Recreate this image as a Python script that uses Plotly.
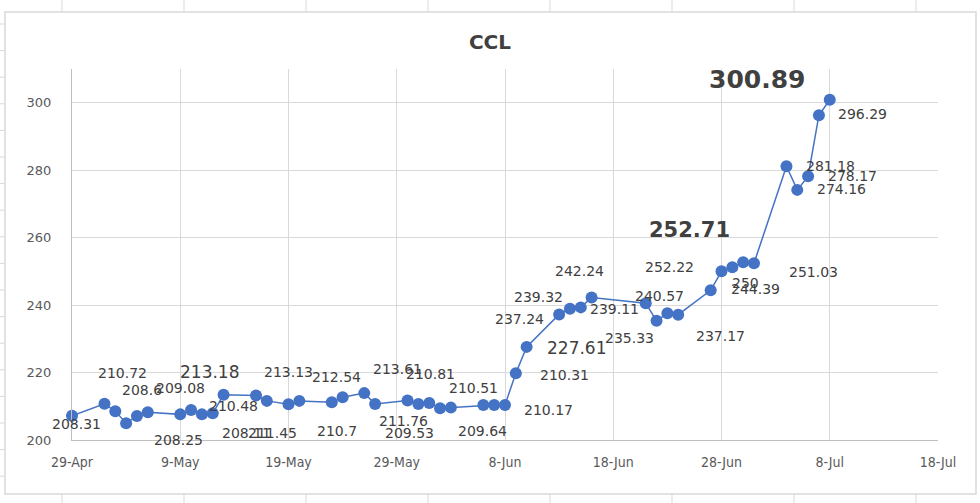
import plotly.graph_objects as go

# ---- data ----
dates = [
    "2022-04-29", "2022-05-02", "2022-05-03", "2022-05-04", "2022-05-05", "2022-05-06",
    "2022-05-09", "2022-05-10", "2022-05-11", "2022-05-12", "2022-05-13",
    "2022-05-16", "2022-05-17", "2022-05-19", "2022-05-20",
    "2022-05-23", "2022-05-24", "2022-05-26", "2022-05-27",
    "2022-05-30", "2022-05-31", "2022-06-01", "2022-06-02", "2022-06-03",
    "2022-06-06", "2022-06-07", "2022-06-08", "2022-06-09", "2022-06-10",
    "2022-06-13", "2022-06-14", "2022-06-15", "2022-06-16",
    "2022-06-21", "2022-06-22", "2022-06-23", "2022-06-24",
    "2022-06-27", "2022-06-28", "2022-06-29", "2022-06-30", "2022-07-01",
    "2022-07-04", "2022-07-05", "2022-07-06", "2022-07-07", "2022-07-08",
]
ccl = [
    207.2, 210.72, 208.5, 205.0, 207.1, 208.2,
    207.6, 208.9, 207.6, 207.9, 213.4,
    213.2, 211.6, 210.6, 211.6,
    211.2, 212.7, 213.9, 210.7,
    211.7, 210.7, 211.0, 209.4, 209.6,
    210.4, 210.4, 210.4, 219.8, 227.61,
    237.24, 238.9, 239.32, 242.24,
    240.57, 235.33, 237.6, 237.17,
    244.39, 250.0, 251.2, 252.71, 252.4,
    281.18, 274.16, 278.17, 296.29, 300.89,
]
tick_dates = ["2022-04-29", "2022-05-09", "2022-05-19", "2022-05-29", "2022-06-08",
              "2022-06-18", "2022-06-28", "2022-07-08", "2022-07-18"]
tick_labels = ["29-Apr", "9-May", "19-May", "29-May", "8-Jun", "18-Jun", "28-Jun", "8-Jul", "18-Jul"]
y_ticks = [200, 220, 240, 260, 280, 300]

# data-label texts (as shown on the chart)
label_texts = ["208.31", "210.72", "208.6", "209.08", "208.25", "213.18", "210.48",
               "208.11", "211.45", "213.13", "212.54", "210.7", "213.61", "210.81",
               "211.76", "209.53", "210.51", "209.64", "210.17", "210.31", "227.61",
               "237.24", "239.32", "242.24", "239.11", "235.33", "240.57", "252.22",
               "237.17", "252.71", "250", "244.39", "251.03", "281.18", "278.17",
               "274.16", "296.29", "300.89"]

# ---- layout helpers (pixel placement of labels in the 980x503 frame) ----
W, H = 980, 503
L, R, T, B = 72, 42, 69, 63
PW, PH = W - L - R, H - T - B

def px(x):
    return (x - L) / PW

def py(y):
    return (H - B - y) / PH

label_pos = [(76, 424), (122, 373), (142, 390), (180, 388), (178, 440), (209, 372), (233, 406),
             (246, 433), (272, 433), (288, 372), (336, 377), (337, 431), (397, 369), (430, 374),
             (403, 421), (409, 433), (473, 388), (482, 431), (548, 410), (564, 375), (576, 348),
             (519, 319), (538, 297), (579, 271), (614, 309), (629, 338), (659, 296), (669, 267),
             (720, 336), (689, 230), (745, 283), (755, 289), (813, 272), (830, 166), (852, 176),
             (841, 189), (862, 114), (757, 79)]
label_style = {"213.18": (17, False), "227.61": (17, False), "252.71": (21, True), "300.89": (25, True)}

blue = "#4472C4"
fig = go.Figure()
fig.add_trace(go.Scatter(
    x=dates, y=ccl, mode="lines+markers",
    line=dict(color=blue, width=1.5),
    marker=dict(color=blue, size=12),
    cliponaxis=False, showlegend=False, hoverinfo="x+y",
))

annotations = []
for txt, (lx, ly) in zip(label_texts, label_pos):
    size, bold = label_style.get(txt, (14, False))
    annotations.append(dict(
        x=px(lx), y=py(ly), xref="paper", yref="paper", showarrow=False,
        text=f"<b>{txt}</b>" if bold else txt,
        font=dict(family="DejaVu Sans", size=size, color="#404040"),
        xanchor="center", yanchor="middle",
    ))

shapes = []
# chart frame
shapes.append(dict(type="rect", xref="paper", yref="paper",
                   x0=px(5), x1=px(976), y0=py(494), y1=py(12),
                   line=dict(color="#d9d9d9", width=1.5), layer="below"))
# spreadsheet cell lines outside the chart frame
for k in range(19):
    yy = 24 + 26.6 * k
    if yy < 494:
        shapes.append(dict(type="line", xref="paper", yref="paper",
                           x0=px(0), x1=px(5), y0=py(yy), y1=py(yy),
                           line=dict(color="#d9d9d9", width=1)))
for k in range(8):
    xx = 62 + 122 * k
    shapes.append(dict(type="line", xref="paper", yref="paper",
                       x0=px(xx), x1=px(xx), y0=py(0), y1=py(12),
                       line=dict(color="#d9d9d9", width=1)))
    shapes.append(dict(type="line", xref="paper", yref="paper",
                       x0=px(xx), x1=px(xx), y0=py(494), y1=py(503),
                       line=dict(color="#d9d9d9", width=1)))

fig.update_layout(
    width=W, height=H,
    margin=dict(l=L, r=R, t=T, b=B),
    paper_bgcolor="white", plot_bgcolor="white",
    title=dict(text="<b>CCL</b>", x=0.5, xanchor="center", y=1 - 42 / H, yanchor="middle",
               font=dict(family="DejaVu Sans", size=20, color="#404040")),
    xaxis=dict(
        type="date", range=["2022-04-29", "2022-07-18"],
        tickvals=tick_dates, ticktext=tick_labels,
        showgrid=True, gridcolor="#d9d9d9", gridwidth=1,
        showline=True, linecolor="#bfbfbf", linewidth=1,
        zeroline=False, ticks="", ticklen=0, ticklabelstandoff=9,
        tickfont=dict(family="Liberation Sans Narrow, DejaVu Sans Condensed, sans-serif",
                      size=14, color="#595959"),
    ),
    yaxis=dict(
        range=[200, 310], tickvals=y_ticks,
        showgrid=True, gridcolor="#d9d9d9", gridwidth=1,
        showline=True, linecolor="#bfbfbf", linewidth=1,
        zeroline=False, ticks="", ticklen=0, ticklabelstandoff=17,
        tickfont=dict(family="DejaVu Sans", size=13, color="#595959"),
    ),
    annotations=annotations,
    shapes=shapes,
)

fig.write_html("out.html", config={"displayModeBar": False},
               post_script="document.body.style.margin='0';document.body.style.overflow='hidden';")
